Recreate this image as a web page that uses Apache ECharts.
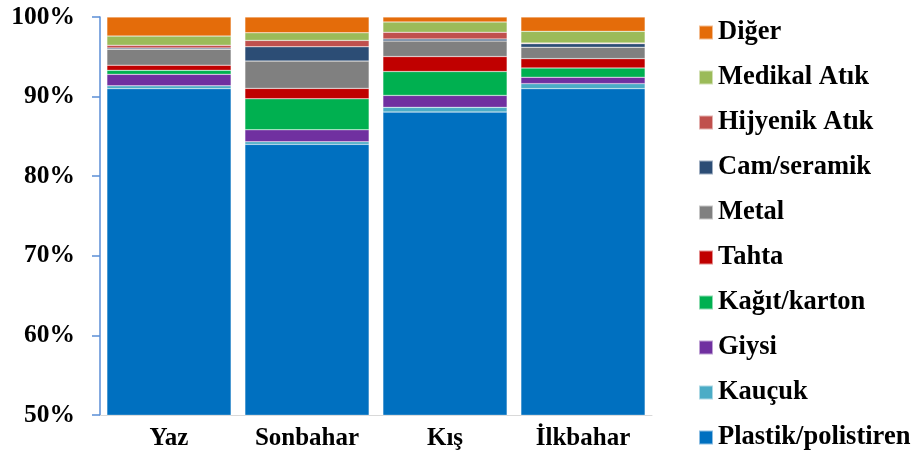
<!DOCTYPE html>
<html>
<head>
<meta charset="utf-8">
<script src="https://cdn.jsdelivr.net/npm/echarts@6/dist/echarts.min.js"></script>
<style>
  html, body { margin: 0; padding: 0; background: #fff; }
  #chart { width: 915px; height: 464px; }
</style>
</head>
<body>
<div id="chart"></div>
<script>
// Seasonal waste composition (% by category), stacked from the bottom up
const seasons = ['Yaz', 'Sonbahar', 'Kış', 'İlkbahar'];

const plastik  = [91.0, 84.0, 88.05, 91.0];
const kaucuk   = [0.35, 0.33, 0.6, 0.63];
const giysi    = [1.45, 1.5, 1.5, 0.8];
const kagit    = [0.5, 3.9, 3.0, 1.17];
const tahta    = [0.65, 1.3, 1.88, 1.17];
const metal    = [2.0, 3.43, 1.96, 1.43];
const cam      = [0.15, 1.8, 0.25, 0.45];
const hijyenik = [0.35, 0.8, 0.84, 0.08];
const medikal  = [1.15, 0.96, 1.3, 1.47];
const diger    = [2.4, 1.98, 0.62, 1.8];

const yTicks = [50, 60, 70, 80, 90, 100];

const layers = [
  { name: 'Plastik/polistiren', data: plastik,  color: '#0070C0' },
  { name: 'Kauçuk',             data: kaucuk,   color: '#4BACC6' },
  { name: 'Giysi',              data: giysi,    color: '#7030A0' },
  { name: 'Kağıt/karton',       data: kagit,    color: '#00B050' },
  { name: 'Tahta',              data: tahta,    color: '#C00000' },
  { name: 'Metal',              data: metal,    color: '#808080' },
  { name: 'Cam/seramik',        data: cam,      color: '#2C4D75' },
  { name: 'Hijyenik Atık',      data: hijyenik, color: '#C0504D' },
  { name: 'Medikal Atık',       data: medikal,  color: '#9BBB59' },
  { name: 'Diğer',              data: diger,    color: '#E46C0A' }
];

const font = '"Liberation Serif", "Times New Roman", serif';

const chart = echarts.init(document.getElementById('chart'), null, { renderer: 'canvas' });

chart.setOption({
  animation: false,
  backgroundColor: '#fff',
  grid: { left: 100, right: 263, top: 17, bottom: 49 },
  legend: {
    orient: 'vertical',
    left: 698,
    top: 19,
    height: 445,
    padding: 0,
    itemWidth: 14,
    itemHeight: 14,
    itemGap: 18,
    icon: 'rect',
    data: layers.map(l => l.name).reverse(),
    textStyle: {
      fontFamily: font,
      fontWeight: 'bold',
      fontSize: 26.5,
      color: '#000'
    }
  },
  xAxis: {
    type: 'category',
    data: seasons,
    axisLine: { show: true, lineStyle: { color: '#D9D9D9', width: 1 } },
    axisTick: { show: false },
    axisLabel: {
      margin: 11,
      fontFamily: font,
      fontWeight: 'bold',
      fontSize: 25,
      color: '#000'
    }
  },
  yAxis: {
    type: 'value',
    min: 50,
    max: 100,
    interval: 10,
    axisLine: { show: true, lineStyle: { color: '#5B8ED6', width: 1.5 } },
    axisTick: { show: true, length: 8, lineStyle: { color: '#5B8ED6', width: 1.5 } },
    splitLine: { show: false },
    axisLabel: {
      margin: 25,
      fontFamily: font,
      fontWeight: 'bold',
      fontSize: 25.5,
      color: '#000',
      formatter: v => (yTicks.includes(v) ? v + '%' : '')
    }
  },
  series: layers.map(l => ({
    name: l.name,
    type: 'bar',
    stack: 'total',
    barCategoryGap: '10%',
    data: l.data,
    itemStyle: {
      color: l.color,
      borderColor: 'rgba(255,255,255,0.55)',
      borderWidth: 0.5
    }
  }))
});
</script>
</body>
</html>
